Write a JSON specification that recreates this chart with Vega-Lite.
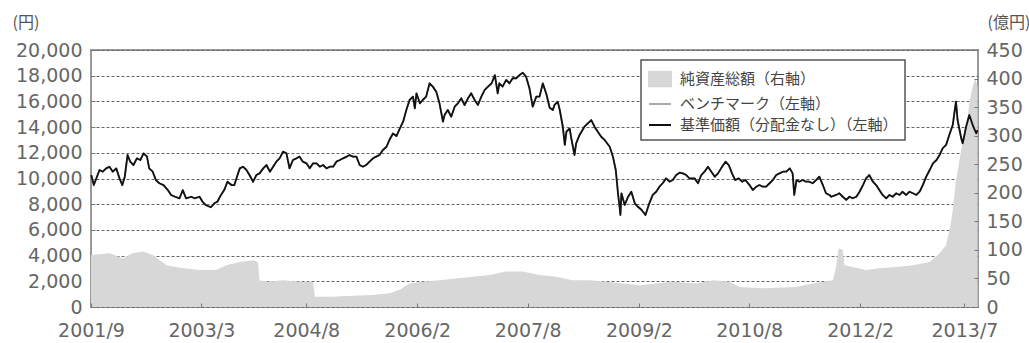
{
  "$schema": "https://vega.github.io/schema/vega-lite/v6.json",
  "width": 887,
  "height": 257,
  "autosize": {"type": "none"},
  "padding": {"left": 91, "top": 50, "right": 51, "bottom": 36},
  "background": "white",
  "config": {
    "view": {"stroke": "#999999", "strokeWidth": 2},
    "axis": {
      "labelFont": "DejaVu Sans",
      "labelFontSize": 19,
      "labelColor": "#666666",
      "titleFont": "Noto Sans CJK JP",
      "titleFontSize": 16,
      "titleColor": "#555555",
      "titleFontWeight": "normal",
      "domain": false,
      "tickColor": "#777777",
      "tickSize": -4,
      "tickWidth": 1
    }
  },
  "datasets": {
    "assets": [
      {"d": "2001-09-01", "a": 91}, {"d": "2001-12-03", "a": 94}, {"d": "2002-02-07", "a": 85}, {"d": "2002-03-25", "a": 94},
      {"d": "2002-05-16", "a": 97}, {"d": "2002-07-04", "a": 91}, {"d": "2002-09-10", "a": 73}, {"d": "2002-12-01", "a": 68},
      {"d": "2003-02-22", "a": 65}, {"d": "2003-05-13", "a": 65}, {"d": "2003-07-02", "a": 73}, {"d": "2003-09-07", "a": 79},
      {"d": "2003-11-12", "a": 82}, {"d": "2003-12-06", "a": 79}, {"d": "2003-12-14", "a": 47}, {"d": "2004-01-17", "a": 44},
      {"d": "2004-04-08", "a": 47}, {"d": "2004-06-29", "a": 44}, {"d": "2004-09-04", "a": 44}, {"d": "2004-09-12", "a": 18},
      {"d": "2004-12-12", "a": 18}, {"d": "2005-01-14", "a": 19}, {"d": "2005-06-25", "a": 21}, {"d": "2005-09-18", "a": 24},
      {"d": "2005-11-07", "a": 30}, {"d": "2005-12-09", "a": 38}, {"d": "2005-12-25", "a": 41}, {"d": "2006-02-28", "a": 44},
      {"d": "2006-05-22", "a": 47}, {"d": "2006-08-13", "a": 50}, {"d": "2006-11-04", "a": 53}, {"d": "2007-01-25", "a": 56},
      {"d": "2007-04-17", "a": 62}, {"d": "2007-07-08", "a": 62}, {"d": "2007-09-29", "a": 56}, {"d": "2007-12-20", "a": 53},
      {"d": "2008-03-11", "a": 47}, {"d": "2008-06-03", "a": 47}, {"d": "2008-08-24", "a": 44}, {"d": "2008-11-15", "a": 41},
      {"d": "2009-02-07", "a": 38}, {"d": "2009-04-28", "a": 41}, {"d": "2009-07-19", "a": 44}, {"d": "2009-11-13", "a": 41},
      {"d": "2010-02-04", "a": 47}, {"d": "2010-04-25", "a": 44}, {"d": "2010-06-14", "a": 35}, {"d": "2010-10-07", "a": 33},
      {"d": "2011-03-20", "a": 35}, {"d": "2011-06-11", "a": 41}, {"d": "2011-09-19", "a": 47}, {"d": "2011-10-05", "a": 70},
      {"d": "2011-10-18", "a": 103}, {"d": "2011-11-07", "a": 100}, {"d": "2011-11-16", "a": 73}, {"d": "2011-12-26", "a": 70},
      {"d": "2012-03-01", "a": 65}, {"d": "2012-05-06", "a": 68}, {"d": "2012-07-28", "a": 70}, {"d": "2012-10-19", "a": 73},
      {"d": "2013-01-10", "a": 79}, {"d": "2013-02-28", "a": 94}, {"d": "2013-04-01", "a": 108}, {"d": "2013-04-25", "a": 146},
      {"d": "2013-05-04", "a": 170}, {"d": "2013-05-20", "a": 220}, {"d": "2013-06-06", "a": 257}, {"d": "2013-06-22", "a": 287},
      {"d": "2013-07-09", "a": 304}, {"d": "2013-07-25", "a": 357}, {"d": "2013-08-11", "a": 386}, {"d": "2013-08-24", "a": 400},
      {"d": "2013-09-04", "a": 385}
    ],
    "nav": [
      {"d": "2001-09-02", "v": 10270}, {"d": "2001-09-15", "v": 9490}, {"d": "2001-10-13", "v": 10660}, {"d": "2001-10-29", "v": 10530},
      {"d": "2001-11-15", "v": 10790}, {"d": "2001-12-01", "v": 10920}, {"d": "2001-12-18", "v": 10530}, {"d": "2002-01-04", "v": 10790},
      {"d": "2002-01-20", "v": 10010}, {"d": "2002-02-03", "v": 9490}, {"d": "2002-02-15", "v": 10140}, {"d": "2002-03-01", "v": 11830},
      {"d": "2002-03-14", "v": 11310}, {"d": "2002-03-30", "v": 11050}, {"d": "2002-04-16", "v": 11570}, {"d": "2002-05-03", "v": 11440},
      {"d": "2002-05-19", "v": 11960}, {"d": "2002-06-05", "v": 11700}, {"d": "2002-06-16", "v": 10790}, {"d": "2002-07-03", "v": 10530},
      {"d": "2002-07-19", "v": 9880}, {"d": "2002-08-05", "v": 9630}, {"d": "2002-08-26", "v": 9490}, {"d": "2002-09-16", "v": 9100},
      {"d": "2002-10-02", "v": 8720}, {"d": "2002-10-22", "v": 8580}, {"d": "2002-11-13", "v": 8460}, {"d": "2002-11-29", "v": 9100},
      {"d": "2002-12-15", "v": 8460}, {"d": "2003-01-10", "v": 8580}, {"d": "2003-01-26", "v": 8460}, {"d": "2003-02-20", "v": 8580},
      {"d": "2003-03-07", "v": 8190}, {"d": "2003-03-22", "v": 7940}, {"d": "2003-04-17", "v": 7760}, {"d": "2003-05-04", "v": 8070},
      {"d": "2003-05-19", "v": 8190}, {"d": "2003-06-06", "v": 8720}, {"d": "2003-06-22", "v": 9100}, {"d": "2003-07-08", "v": 9750},
      {"d": "2003-07-28", "v": 9490}, {"d": "2003-08-11", "v": 9490}, {"d": "2003-08-27", "v": 10270}, {"d": "2003-09-07", "v": 10790},
      {"d": "2003-09-23", "v": 10920}, {"d": "2003-10-10", "v": 10660}, {"d": "2003-10-25", "v": 10270}, {"d": "2003-11-12", "v": 9750},
      {"d": "2003-11-28", "v": 10270}, {"d": "2003-12-14", "v": 10400}, {"d": "2004-01-01", "v": 10790}, {"d": "2004-01-17", "v": 11050},
      {"d": "2004-02-03", "v": 10530}, {"d": "2004-02-19", "v": 10920}, {"d": "2004-03-06", "v": 11310}, {"d": "2004-03-22", "v": 11570},
      {"d": "2004-04-08", "v": 12090}, {"d": "2004-04-25", "v": 11960}, {"d": "2004-05-10", "v": 10790}, {"d": "2004-05-27", "v": 11440},
      {"d": "2004-06-13", "v": 11570}, {"d": "2004-06-29", "v": 11700}, {"d": "2004-07-15", "v": 11310}, {"d": "2004-08-02", "v": 11180},
      {"d": "2004-08-18", "v": 10790}, {"d": "2004-09-04", "v": 11180}, {"d": "2004-09-21", "v": 11180}, {"d": "2004-10-07", "v": 10920},
      {"d": "2004-10-23", "v": 11050}, {"d": "2004-11-09", "v": 10790}, {"d": "2004-11-25", "v": 10920}, {"d": "2004-12-12", "v": 10920},
      {"d": "2004-12-28", "v": 11310}, {"d": "2005-01-14", "v": 11440}, {"d": "2005-01-30", "v": 11570}, {"d": "2005-02-17", "v": 11700},
      {"d": "2005-03-03", "v": 11830}, {"d": "2005-03-19", "v": 11700}, {"d": "2005-04-06", "v": 11700}, {"d": "2005-04-22", "v": 11050},
      {"d": "2005-05-08", "v": 10920}, {"d": "2005-05-24", "v": 11050}, {"d": "2005-06-10", "v": 11310}, {"d": "2005-06-27", "v": 11570},
      {"d": "2005-07-13", "v": 11700}, {"d": "2005-07-29", "v": 11830}, {"d": "2005-08-15", "v": 12220}, {"d": "2005-09-02", "v": 12470},
      {"d": "2005-09-18", "v": 13060}, {"d": "2005-10-04", "v": 13500}, {"d": "2005-10-21", "v": 13300}, {"d": "2005-11-07", "v": 13900},
      {"d": "2005-11-23", "v": 14420}, {"d": "2005-12-09", "v": 15330}, {"d": "2005-12-25", "v": 16110}, {"d": "2006-01-11", "v": 16370},
      {"d": "2006-01-20", "v": 15460}, {"d": "2006-01-28", "v": 16630}, {"d": "2006-02-14", "v": 15850}, {"d": "2006-02-28", "v": 16110},
      {"d": "2006-03-17", "v": 16370}, {"d": "2006-04-03", "v": 17410}, {"d": "2006-04-19", "v": 17150}, {"d": "2006-05-06", "v": 16760},
      {"d": "2006-05-22", "v": 15850}, {"d": "2006-06-08", "v": 14420}, {"d": "2006-06-16", "v": 14940}, {"d": "2006-07-02", "v": 15330},
      {"d": "2006-07-19", "v": 14810}, {"d": "2006-08-05", "v": 15590}, {"d": "2006-08-21", "v": 15850}, {"d": "2006-09-07", "v": 16240},
      {"d": "2006-09-23", "v": 15720}, {"d": "2006-10-10", "v": 16240}, {"d": "2006-10-26", "v": 16630}, {"d": "2006-11-12", "v": 16110},
      {"d": "2006-11-28", "v": 15720}, {"d": "2006-12-15", "v": 16370}, {"d": "2007-01-01", "v": 16890}, {"d": "2007-01-17", "v": 17150},
      {"d": "2007-02-04", "v": 17410}, {"d": "2007-02-20", "v": 18050}, {"d": "2007-03-06", "v": 16630}, {"d": "2007-03-14", "v": 17410},
      {"d": "2007-03-30", "v": 17150}, {"d": "2007-04-17", "v": 17670}, {"d": "2007-05-03", "v": 17410}, {"d": "2007-05-19", "v": 17800},
      {"d": "2007-06-05", "v": 17800}, {"d": "2007-06-22", "v": 18050}, {"d": "2007-07-08", "v": 18230}, {"d": "2007-07-24", "v": 17930},
      {"d": "2007-08-10", "v": 17020}, {"d": "2007-08-26", "v": 15590}, {"d": "2007-09-13", "v": 16370}, {"d": "2007-09-29", "v": 16370},
      {"d": "2007-10-15", "v": 17400}, {"d": "2007-11-02", "v": 16560}, {"d": "2007-11-18", "v": 15500}, {"d": "2007-12-04", "v": 15330},
      {"d": "2007-12-12", "v": 15720}, {"d": "2007-12-28", "v": 15980}, {"d": "2008-01-07", "v": 15330}, {"d": "2008-01-22", "v": 14030},
      {"d": "2008-02-01", "v": 12610}, {"d": "2008-02-09", "v": 13640}, {"d": "2008-02-25", "v": 13900}, {"d": "2008-03-04", "v": 13130},
      {"d": "2008-03-20", "v": 11830}, {"d": "2008-03-28", "v": 12740}, {"d": "2008-04-14", "v": 13390}, {"d": "2008-05-08", "v": 14030},
      {"d": "2008-05-25", "v": 14290}, {"d": "2008-06-11", "v": 14550}, {"d": "2008-06-27", "v": 14030}, {"d": "2008-07-13", "v": 13640},
      {"d": "2008-07-30", "v": 13250}, {"d": "2008-08-16", "v": 13000}, {"d": "2008-09-10", "v": 12470}, {"d": "2008-09-26", "v": 11700},
      {"d": "2008-10-10", "v": 10660}, {"d": "2008-10-21", "v": 8850}, {"d": "2008-10-29", "v": 7800}, {"d": "2008-11-02", "v": 7160},
      {"d": "2008-11-07", "v": 8850}, {"d": "2008-11-23", "v": 7940}, {"d": "2008-12-10", "v": 8580}, {"d": "2008-12-26", "v": 8970},
      {"d": "2009-01-12", "v": 8070}, {"d": "2009-01-28", "v": 7800}, {"d": "2009-02-15", "v": 7550}, {"d": "2009-03-06", "v": 7160},
      {"d": "2009-03-25", "v": 8070}, {"d": "2009-04-11", "v": 8720}, {"d": "2009-04-28", "v": 8970}, {"d": "2009-05-14", "v": 9360},
      {"d": "2009-05-30", "v": 9630}, {"d": "2009-06-16", "v": 10010}, {"d": "2009-07-03", "v": 9750}, {"d": "2009-07-19", "v": 9880},
      {"d": "2009-08-05", "v": 10270}, {"d": "2009-08-22", "v": 10450}, {"d": "2009-09-07", "v": 10400}, {"d": "2009-09-24", "v": 10270},
      {"d": "2009-10-10", "v": 10000}, {"d": "2009-11-04", "v": 10010}, {"d": "2009-11-21", "v": 9630}, {"d": "2009-12-07", "v": 10270},
      {"d": "2009-12-23", "v": 10530}, {"d": "2010-01-09", "v": 10920}, {"d": "2010-01-26", "v": 10530}, {"d": "2010-02-12", "v": 10140},
      {"d": "2010-02-28", "v": 10400}, {"d": "2010-03-15", "v": 10790}, {"d": "2010-04-06", "v": 11310}, {"d": "2010-04-22", "v": 11050},
      {"d": "2010-05-08", "v": 10400}, {"d": "2010-05-24", "v": 9880}, {"d": "2010-06-10", "v": 10010}, {"d": "2010-06-27", "v": 9750},
      {"d": "2010-07-13", "v": 9880}, {"d": "2010-08-03", "v": 9490}, {"d": "2010-08-19", "v": 9100}, {"d": "2010-09-05", "v": 9360},
      {"d": "2010-09-21", "v": 9490}, {"d": "2010-10-07", "v": 9360}, {"d": "2010-10-24", "v": 9360}, {"d": "2010-11-10", "v": 9630},
      {"d": "2010-11-26", "v": 9880}, {"d": "2010-12-13", "v": 10270}, {"d": "2010-12-29", "v": 10400}, {"d": "2011-01-15", "v": 10530},
      {"d": "2011-02-01", "v": 10530}, {"d": "2011-02-18", "v": 10790}, {"d": "2011-03-04", "v": 10400}, {"d": "2011-03-12", "v": 8720},
      {"d": "2011-03-23", "v": 9880}, {"d": "2011-04-06", "v": 9750}, {"d": "2011-04-22", "v": 9880}, {"d": "2011-05-09", "v": 9750},
      {"d": "2011-05-25", "v": 9750}, {"d": "2011-06-11", "v": 9630}, {"d": "2011-06-28", "v": 9880}, {"d": "2011-07-14", "v": 10140},
      {"d": "2011-07-30", "v": 9550}, {"d": "2011-08-16", "v": 8850}, {"d": "2011-09-02", "v": 8720}, {"d": "2011-09-11", "v": 8580},
      {"d": "2011-10-05", "v": 8720}, {"d": "2011-10-21", "v": 8850}, {"d": "2011-11-07", "v": 8580}, {"d": "2011-11-24", "v": 8330},
      {"d": "2011-12-10", "v": 8580}, {"d": "2011-12-26", "v": 8460}, {"d": "2012-01-13", "v": 8580}, {"d": "2012-01-29", "v": 8970},
      {"d": "2012-02-15", "v": 9490}, {"d": "2012-03-01", "v": 10010}, {"d": "2012-03-17", "v": 10270}, {"d": "2012-04-04", "v": 9750},
      {"d": "2012-04-20", "v": 9490}, {"d": "2012-05-06", "v": 9100}, {"d": "2012-05-22", "v": 8720}, {"d": "2012-06-09", "v": 8460},
      {"d": "2012-06-25", "v": 8720}, {"d": "2012-07-11", "v": 8580}, {"d": "2012-07-28", "v": 8850}, {"d": "2012-08-14", "v": 8720},
      {"d": "2012-08-28", "v": 8970}, {"d": "2012-09-16", "v": 8720}, {"d": "2012-10-02", "v": 8970}, {"d": "2012-10-19", "v": 8850},
      {"d": "2012-11-05", "v": 8720}, {"d": "2012-11-21", "v": 8970}, {"d": "2012-12-07", "v": 9490}, {"d": "2012-12-24", "v": 10140},
      {"d": "2013-01-10", "v": 10660}, {"d": "2013-01-26", "v": 11180}, {"d": "2013-02-13", "v": 11440}, {"d": "2013-02-28", "v": 11830},
      {"d": "2013-03-15", "v": 12350}, {"d": "2013-04-01", "v": 12610}, {"d": "2013-04-17", "v": 13390}, {"d": "2013-05-04", "v": 14160},
      {"d": "2013-05-12", "v": 15070}, {"d": "2013-05-20", "v": 15980}, {"d": "2013-05-28", "v": 14550}, {"d": "2013-06-15", "v": 13130},
      {"d": "2013-06-22", "v": 12740}, {"d": "2013-07-01", "v": 13390}, {"d": "2013-07-09", "v": 14030}, {"d": "2013-07-25", "v": 14940},
      {"d": "2013-08-11", "v": 14160}, {"d": "2013-08-28", "v": 13520}, {"d": "2013-09-04", "v": 13770}
    ]
  },
  "layer": [
    {
      "data": {"name": "assets"},
      "mark": {"type": "area", "interpolate": "linear"},
      "encoding": {
        "x": {
          "field": "d", "type": "temporal",
          "scale": {"domain": [{"year": 2001, "month": 9, "date": 1}, {"year": 2013, "month": 9, "date": 6}], "nice": false},
          "axis": {
            "title": null, "grid": false, "zindex": 1, "labelPadding": 18, "labelFlush": false,
            "format": "%Y/%-m",
            "values": [
              {"year": 2001, "month": 9, "date": 1}, {"year": 2003, "month": 3, "date": 1}, {"year": 2004, "month": 8, "date": 1},
              {"year": 2006, "month": 2, "date": 1}, {"year": 2007, "month": 8, "date": 1}, {"year": 2009, "month": 2, "date": 1},
              {"year": 2010, "month": 8, "date": 1}, {"year": 2012, "month": 2, "date": 1}, {"year": 2013, "month": 7, "date": 1}
            ]
          }
        },
        "y": {
          "field": "a", "type": "quantitative",
          "scale": {"domain": [0, 450], "nice": false},
          "axis": {
            "orient": "right", "grid": false, "zindex": 1, "labelPadding": 12,
            "values": [0, 50, 100, 150, 200, 250, 300, 350, 400, 450],
            "title": "(億円)", "titleAngle": 0, "titleX": 9, "titleY": -28, "titleAlign": "left", "titleBaseline": "middle"
          }
        },
        "color": {
          "datum": "純資産総額（右軸）", "type": "nominal",
          "scale": {
            "domain": ["純資産総額（右軸）", "ベンチマーク（左軸）", "基準価額（分配金なし）（左軸）"],
            "range": ["#d7d7d7", "#aaaaaa", "#111111"]
          },
          "legend": {
            "orient": "none", "legendX": 550, "legendY": 10, "title": null,
            "padding": 7, "strokeColor": "#555555", "fillColor": "white",
            "symbolSize": 484, "labelFont": "Noto Sans CJK JP", "labelFontSize": 15, "labelColor": "#444444",
            "labelOffset": 8, "rowPadding": 1, "labelLimit": 400,
            "encode": {
              "legend": {"update": {"strokeWidth": {"value": 1.5}}},
              "symbols": {"update": {
                "shape": {"signal": "datum.value === '純資産総額（右軸）' ? 'M-1,-0.65H1V0.65H-1Z' : 'stroke'"},
                "fill": {"signal": "datum.value === '純資産総額（右軸）' ? '#d7d7d7' : 'transparent'"},
                "stroke": {"signal": "datum.value === '純資産総額（右軸）' ? 'transparent' : (datum.value === 'ベンチマーク（左軸）' ? '#aaaaaa' : '#111111')"},
                "strokeWidth": {"value": 2},
                "opacity": {"value": 1},
                "fillOpacity": {"value": 1},
                "strokeOpacity": {"value": 1}
              }}
            }
          }
        }
      }
    },
    {
      "data": {"name": "nav"},
      "encoding": {
        "x": {
          "field": "d", "type": "temporal",
          "scale": {"domain": [{"year": 2001, "month": 9, "date": 1}, {"year": 2013, "month": 9, "date": 6}], "nice": false},
          "axis": {
            "title": null, "grid": false, "zindex": 1, "labelPadding": 18, "labelFlush": false,
            "format": "%Y/%-m",
            "values": [
              {"year": 2001, "month": 9, "date": 1}, {"year": 2003, "month": 3, "date": 1}, {"year": 2004, "month": 8, "date": 1},
              {"year": 2006, "month": 2, "date": 1}, {"year": 2007, "month": 8, "date": 1}, {"year": 2009, "month": 2, "date": 1},
              {"year": 2010, "month": 8, "date": 1}, {"year": 2012, "month": 2, "date": 1}, {"year": 2013, "month": 7, "date": 1}
            ]
          }
        },
        "y": {
          "field": "v", "type": "quantitative",
          "scale": {"domain": [0, 20000], "nice": false},
          "axis": {
            "orient": "left", "grid": true, "gridColor": "#666666", "gridDash": [3, 2], "gridWidth": 1,
            "zindex": 0, "labelPadding": 13, "format": ",d",
            "values": [0, 2000, 4000, 6000, 8000, 10000, 12000, 14000, 16000, 18000, 20000],
            "title": "(円)", "titleAngle": 0, "titleX": -79, "titleY": -28, "titleAlign": "left", "titleBaseline": "middle"
          }
        }
      },
      "layer": [
        {
          "mark": {"type": "line", "strokeWidth": 1.8, "strokeJoin": "round"},
          "encoding": {"color": {"datum": "ベンチマーク（左軸）", "type": "nominal"}}
        },
        {
          "mark": {"type": "line", "strokeWidth": 1.8, "strokeJoin": "round"},
          "encoding": {"color": {"datum": "基準価額（分配金なし）（左軸）", "type": "nominal"}}
        }
      ]
    }
  ],
  "resolve": {"scale": {"y": "independent"}}
}
